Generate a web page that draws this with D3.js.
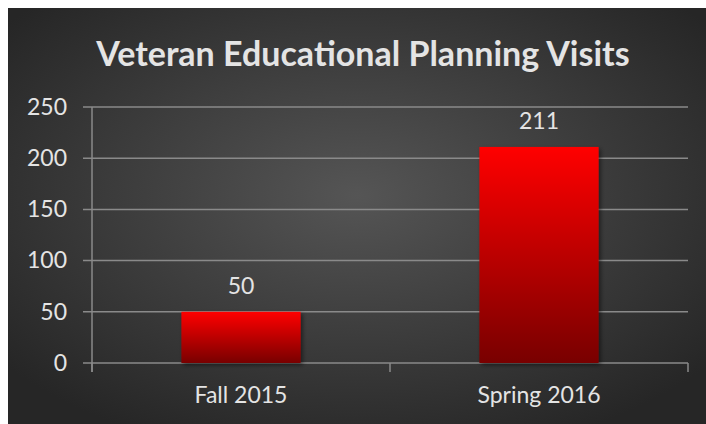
<!DOCTYPE html>
<html>
<head>
<meta charset="utf-8">
<script src="https://cdn.jsdelivr.net/npm/d3@7"></script>
<style>
  body { margin: 0; background: #fff; }
  text { font-family: Lato, "Open Sans", sans-serif; fill: #e4e4e4; }
</style>
</head>
<body>
<div id="chart"></div>
<script>
const width = 706;
const height = 424;

// Data
const categories = ['Fall 2015', 'Spring 2016'];
const visits = [50, 211];
const yTicks = [0, 50, 100, 150, 200, 250];
const title = 'Veteran Educational Planning Visits';

// Plot area
const margin = { top: 107, right: 18, bottom: 61, left: 92 };

const svg = d3.select('#chart')
    .append('svg')
    .attr('width', width)
    .attr('height', height);

const defs = svg.append('defs');

// Dark panel with lighter middle
const bgGrad = defs.append('radialGradient')
    .attr('id', 'bg')
    .attr('cx', '50%').attr('cy', '45%').attr('r', '65%');
bgGrad.append('stop').attr('offset', '0%').attr('stop-color', '#555555');
bgGrad.append('stop').attr('offset', '100%').attr('stop-color', '#262626');

const barGrad = defs.append('linearGradient')
    .attr('id', 'bar')
    .attr('x1', 0).attr('y1', 0).attr('x2', 0).attr('y2', 1);
barGrad.append('stop').attr('offset', '0%').attr('stop-color', '#ff0000');
barGrad.append('stop').attr('offset', '100%').attr('stop-color', '#780000');

const shadow = defs.append('filter').attr('id', 'shadow')
    .attr('x', '-10%').attr('y', '-10%').attr('width', '130%').attr('height', '130%');
shadow.append('feDropShadow')
    .attr('dx', 2).attr('dy', 2).attr('stdDeviation', 2)
    .attr('flood-color', '#000').attr('flood-opacity', 0.5);

svg.append('rect')
    .attr('x', 8).attr('y', 8)
    .attr('width', width - 8).attr('height', height - 8)
    .attr('fill', 'url(#bg)');

// Scales
const x = d3.scaleBand()
    .domain(categories)
    .range([margin.left, width - margin.right])
    .paddingInner(0.6)
    .paddingOuter(0.3);

const y = d3.scaleLinear()
    .domain([0, 250])
    .range([height - margin.bottom, margin.top]);

// Gridlines
svg.append('g')
    .selectAll('line')
    .data(yTicks)
    .enter().append('line')
    .attr('x1', margin.left - 9)
    .attr('x2', width - margin.right)
    .attr('y1', d => y(d))
    .attr('y2', d => y(d))
    .attr('stroke', '#8a8a8a')
    .attr('stroke-width', 1.5);

// Y axis
const yAxis = svg.append('g')
    .attr('transform', `translate(${margin.left},0)`)
    .call(d3.axisLeft(y).tickValues(yTicks).tickSize(0).tickPadding(25));
yAxis.select('.domain').attr('stroke', '#8a8a8a').attr('stroke-width', 1.5)
    .attr('d', `M0,${y(250)}V${y(0) + 9}`);
yAxis.selectAll('text').style('font-size', '23px').attr('fill', '#e4e4e4');

// X axis
const xAxis = svg.append('g')
    .attr('transform', `translate(0,${y(0)})`)
    .call(d3.axisBottom(x).tickSize(0).tickPadding(24));
xAxis.select('.domain').remove();
xAxis.selectAll('text').style('font-size', '23px').attr('fill', '#e4e4e4');

// Category dividers
const edges = [margin.left, (margin.left + width - margin.right) / 2, width - margin.right];
svg.append('g')
    .selectAll('line')
    .data(edges)
    .enter().append('line')
    .attr('x1', d => d).attr('x2', d => d)
    .attr('y1', y(0)).attr('y2', y(0) + 9)
    .attr('stroke', '#8a8a8a')
    .attr('stroke-width', 1.5);

// Bars
svg.append('g')
    .selectAll('rect')
    .data(visits)
    .enter().append('rect')
    .attr('x', (d, i) => x(categories[i]))
    .attr('y', d => y(d))
    .attr('width', x.bandwidth())
    .attr('height', d => y(0) - y(d))
    .attr('fill', 'url(#bar)')
    .attr('filter', 'url(#shadow)');

// Value labels
svg.append('g')
    .selectAll('text')
    .data(visits)
    .enter().append('text')
    .attr('x', (d, i) => x(categories[i]) + x.bandwidth() / 2)
    .attr('y', d => y(d) - 18)
    .attr('text-anchor', 'middle')
    .style('font-size', '23px')
    .text(d => d);

// Title
svg.append('text')
    .attr('x', 363)
    .attr('y', 66)
    .attr('text-anchor', 'middle')
    .style('font-size', '34px')
    .style('font-weight', 'bold')
    .text(title);
</script>
</body>
</html>
